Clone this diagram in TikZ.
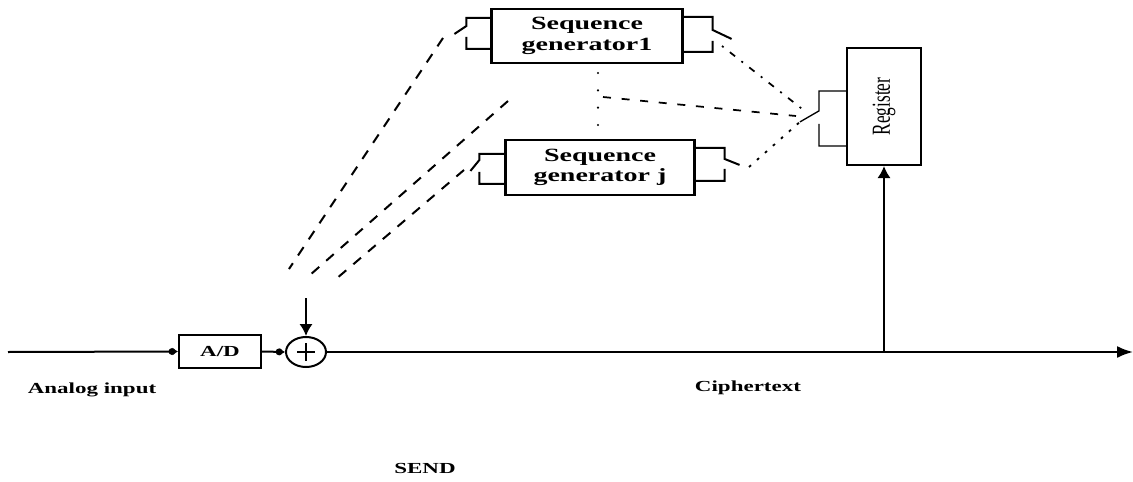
\documentclass[tikz,border=0pt]{standalone}
\usepackage{fontspec}
\setmainfont{Liberation Serif}
\usetikzlibrary{arrows.meta,calc,shapes.geometric}
\newcommand{\wtxt}[1]{\scalebox{1.5}[1]{#1}}
\begin{document}
\begin{tikzpicture}[x=0.75pt,y=-0.75pt,
  box/.style={draw,line width=1.6pt,inner sep=0pt},
  conn/.style={line width=1.5pt},
  smalltip/.style={-{Circle[length=5pt,sep=-2pt]Latex[length=4pt,width=6pt]}},
  bigtip/.style={-{Latex[length=9pt,width=10pt]}},
  lbl/.style={font=\fontsize{11.5}{13}\selectfont\bfseries},
  gentxt/.style={font=\fontsize{14}{15.5}\selectfont\bfseries,align=center},
  brk/.style={line width=1.5pt},
  thinbrk/.style={line width=1pt},
  longdash/.style={line width=1.5pt,dash pattern=on 7.5pt off 7pt},
  dotline/.style={line width=1.8pt,line cap=round,dash pattern=on 0pt off 13pt},
  middash/.style={line width=1.3pt,dash pattern=on 6pt off 8pt},
  dashdot/.style={line width=1.3pt,dash pattern=on 1.5pt off 6pt on 5pt off 6pt},
  dotdash/.style={line width=1.4pt,dash pattern=on 2pt off 6pt}
]
\useasboundingbox (0,0) rectangle (1133,482);

% main chain
\node[box,minimum width=61.5pt,minimum height=24.75pt,font=\fontsize{11.5}{13}\selectfont\bfseries] (ad) at (220,351.5) {\wtxt{A/D}};
\node[draw,ellipse,line width=1.5pt,minimum width=30pt,minimum height=22.5pt,inner sep=0pt] (xor) at (306,352) {};
\draw[line width=1.5pt] ($(xor.center)+(-9,0)$) -- ($(xor.center)+(9,0)$);
\draw[line width=1.5pt] ($(xor.center)+(0,-9)$) -- ($(xor.center)+(0,9)$);

\coordinate (in) at (8,352);
\coordinate (out) at (1133,352);
\coordinate (tap) at (884,352);
\coordinate (xin) at (306,298);

\draw[conn,smalltip] (in) -- (ad.west);
\draw[conn,smalltip] (ad.east) -- (xor.west);
\draw[conn,-{Latex[length=12pt,width=9pt]}] (xor.east) -- (out);
\draw[conn,bigtip] (xin) -- (xor.north);

% generators and register
\node[box,gentxt,minimum width=143.25pt,minimum height=40.5pt] (sg1) at (587,36) {\wtxt{Sequence}\\\wtxt{generator1}};
\node[box,gentxt,minimum width=141.75pt,minimum height=41.25pt] (sgj) at (600,167.5) {\wtxt{Sequence}\\\wtxt{generator j}};
\node[box,minimum width=55.5pt,minimum height=87.75pt,font=\fontsize{13}{14}\selectfont] (reg) at (884,106.5) {\rotatebox{90}{\scalebox{1}[1.5]{Register}}};
\draw[conn,bigtip] (tap) -- (reg.south);

% switch brackets
\draw[brk,shift={(sg1.north west)}] (0,10) -- (-24,10) -- (-24,18) -- (-36,26) coordinate (sg1L) (-24,29) -- (-24,41) -- (0,41);
\draw[brk,shift={(sg1.north east)}] (0,9) -- (29,9) -- (29,22) -- (48,31) coordinate (sg1R) (29,33) -- (29,44) -- (0,44);
\draw[brk,shift={(sgj.north west)}] (0,15) -- (-25,15) -- (-25,21) -- (-34,32) coordinate (sgjL) (-25,33) -- (-25,45) -- (0,45);
\draw[brk,shift={(sgj.north east)}] (0,9) -- (29,9) -- (29,20) -- (44,26) coordinate (sgjR) (29,30) -- (29,42) -- (0,42);
\draw[thinbrk,shift={(reg.north west)}] (0,44) -- (-27,44) -- (-27,64) -- (-46,75) coordinate (regL) (-27,77) -- (-27,99) -- (0,99);

% key lines
\coordinate (l1a) at (443,38);  \coordinate (l1b) at (289,269);
\coordinate (l2a) at (508,101); \coordinate (l2b) at (310,275);
\coordinate (l3a) at (464,170); \coordinate (l3b) at (336,279);
\draw[longdash] (l1a) -- (l1b);
\draw[longdash] (l2a) -- (l2b);
\draw[longdash] (l3a) -- (l3b);

\coordinate (v1) at (598,73); \coordinate (v2) at (598,128);
\draw[dotline] (v1) -- (v2);

\coordinate (l5a) at (603,97); \coordinate (l5b) at (796,116);
\draw[middash] (l5a) -- (l5b);
\coordinate (l6a) at (722,46); \coordinate (l6b) at (806,112);
\draw[dashdot] (l6a) -- (l6b);
\coordinate (l7a) at (749,167); \coordinate (l7b) at (802,120);
\draw[dotdash] (l7a) -- (l7b);

% labels
\node[lbl] (lin) at (92,390) {\wtxt{Analog input}};
\node[lbl] (lct) at (748,388) {\wtxt{Ciphertext}};
\node[lbl] (lsend) at (425,468) {\wtxt{SEND}};
\end{tikzpicture}
\end{document}
